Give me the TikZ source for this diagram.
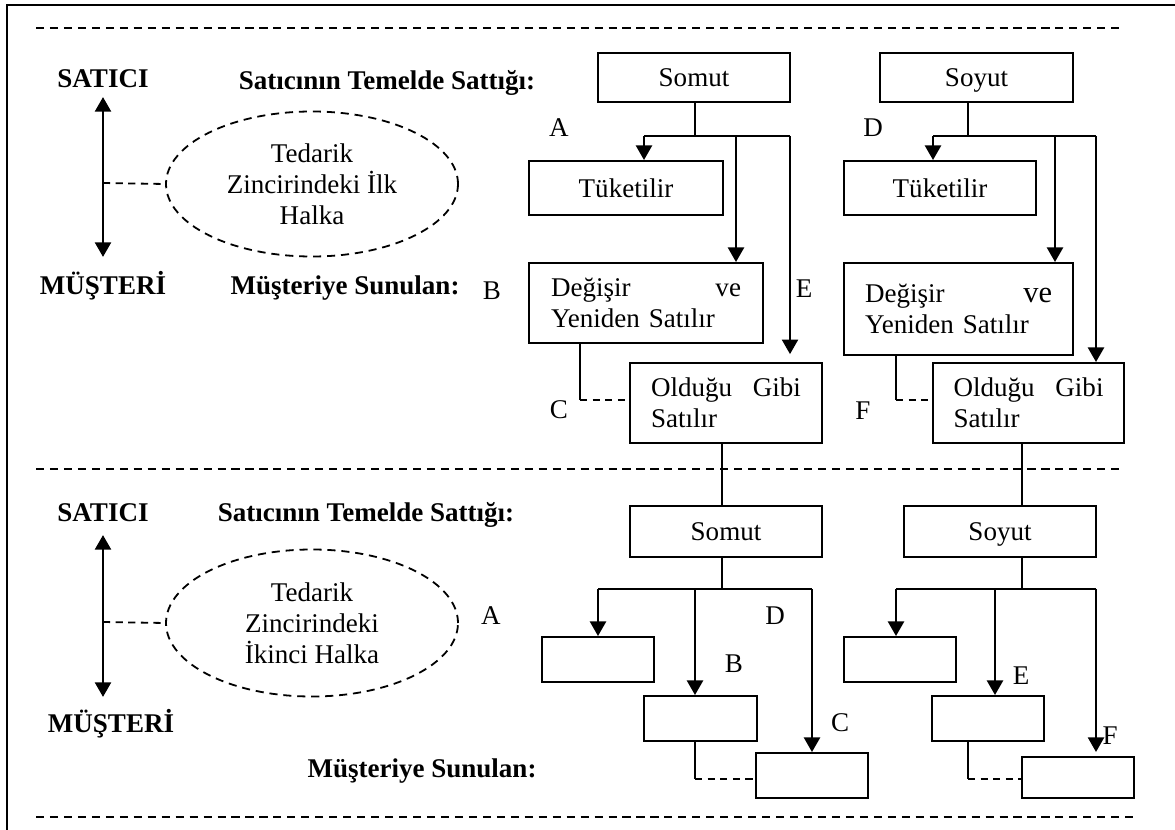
\documentclass[tikz,border=0pt]{standalone}
\usepackage{fontspec}
\setmainfont{Liberation Serif}
\usetikzlibrary{arrows.meta,shapes.geometric}

% one drawing unit = one pixel of the 1175 x 830 page
\newcommand\pxu{0.444pt}
% rectangle given by its corners: [options]{name}{x1}{y1}{x2}{y2}{text}
\newcommand\rbox[7][]{%
  \node[box,#1,minimum width={(#5-#3)*\pxu},minimum height={(#6-#4)*\pxu}]
    (#2) at ({(#3+#5)/2},{(#4+#6)/2}) {#7};}

\tikzset{
  txt/.style={font=\fontsize{12}{13.8}\selectfont},
  box/.style={draw,line width=0.8pt,inner sep=0pt,align=center,txt},
  oneline/.style={text height=8pt,text depth=0pt},
  lbl/.style={inner sep=0pt,text height=8pt,text depth=0pt,txt},
  head/.style={lbl,font=\fontsize{12}{13.8}\selectfont\bfseries},
  cloud/.style={draw,ellipse,dash pattern=on 3.6pt off 2.6pt,line width=0.8pt,
    inner sep=0pt,align=center,txt},
  sep/.style={line width=1pt,dash pattern=on 3.6pt off 2.6pt},
  link/.style={line width=0.8pt,dash pattern=on 3.2pt off 2.4pt},
  stem/.style={line width=0.8pt},
  branch/.style={line width=1pt},
  arr/.style={line width=1.3pt,-{Triangle[length=6.5pt,width=7pt]}},
  twoway/.style={line width=1.3pt,{Triangle[length=6.5pt,width=7pt]}-{Triangle[length=6.5pt,width=7pt]}},
}

\begin{document}
\begin{tikzpicture}[x=0.444pt,y=-0.444pt]
\useasboundingbox (0,0) rectangle (1175,830);

% frame and section separators
\coordinate (fbl) at (7,830);
\coordinate (ftl) at (7,5);
\coordinate (ftr) at (1175,5);
\draw[line width=1.2pt] (fbl) -- (ftl) -- (ftr);
\coordinate (s1a) at (36,28);  \coordinate (s1b) at (1125,28);
\coordinate (s2a) at (36,469); \coordinate (s2b) at (1125,469);
\coordinate (s3a) at (36,817); \coordinate (s3b) at (1134,817);
\draw[sep] (s1a) -- (s1b);
\draw[sep] (s2a) -- (s2b);
\draw[sep] (s3a) -- (s3b);

% ---------------- first link ----------------
\node[head] (sat1) at (103,78) {SATICI};
\node[head] (mus1) at (103,285) {MÜŞTERİ};
\coordinate (up1) at (103,97);
\coordinate (dn1) at (103,257);
\draw[twoway] (dn1) -- (up1);
\node[cloud,minimum width={292*\pxu},minimum height={145*\pxu}] (ring1) at (312,184)
  {Tedarik\\Zincirindeki İlk\\Halka};
\coordinate (mid1) at (103,183);
\draw[link] (mid1) -- (ring1.west);

\node[head] (ts1) at (387,80) {Satıcının Temelde Sattığı:};
\node[head] (ms1) at (345,285) {Müşteriye Sunulan:};

\rbox[oneline]{somut1}{598}{53}{790}{102}{Somut}
\rbox[oneline]{soyut1}{880}{53}{1073}{102}{Soyut}
\rbox[oneline]{tuk1}{529}{161}{723}{215}{Tüketilir}
\rbox[oneline]{tuk2}{844}{161}{1036}{215}{Tüketilir}
\rbox[text width={190*\pxu},align=left]{deg1}{529}{263}{763}{343}{Değişir\hfill ve\\Yeniden Satılır}
\rbox[text width={187*\pxu},align=left]{deg2}{844}{263}{1073}{355}{Değişir\hfill{\fontsize{13.5}{13.8}\selectfont ve}\\Yeniden Satılır}
\rbox[text width={150*\pxu},align=left]{old1}{630}{363}{822}{443}{Olduğu\hfill Gibi\\Satılır}
\rbox[text width={150*\pxu},align=left]{old2}{933}{363}{1124}{443}{Olduğu\hfill Gibi\\Satılır}

\node[lbl] (la1) at (559,127) {A};
\node[lbl] (lb1) at (492,290) {B};
\node[lbl] (lc1) at (559,409) {C};
\node[lbl] (ld1) at (873,127) {D};
\node[lbl] (le1) at (804,288) {E};
\node[lbl] (lf1) at (863,410) {F};

% Somut branches
\coordinate (j1) at (695,136);
\coordinate (b11) at (644,136);
\coordinate (b12) at (736,136);
\coordinate (b13) at (790,136);
\draw[stem] (somut1.south -| j1) -- (j1);
\draw[branch] (b11) -- (b13);
\draw[arr] (b11) -- (b11 |- tuk1.north);
\draw[arr] (b12) -- (b12 |- deg1.north);
\draw[arr,shorten >=3.5pt] (b13) -- (b13 |- old1.north);
\coordinate (k1) at (580,400);
\draw[stem] (k1 |- deg1.south) -- (k1);
\draw[link] (k1) -- (k1 -| old1.west);

% Soyut branches
\coordinate (j2) at (968,136);
\coordinate (b21) at (933,136);
\coordinate (b22) at (1055,136);
\coordinate (b23) at (1096,136);
\draw[stem] (soyut1.south -| j2) -- (j2);
\draw[branch] (b21) -- (b23);
\draw[arr] (b21) -- (b21 |- tuk2.north);
\draw[arr] (b22) -- (b22 |- deg2.north);
\draw[arr] (b23) -- (b23 |- old2.north);
\coordinate (k2) at (896,400);
\draw[stem] (k2 |- deg2.south) -- (k2);
\draw[link] (k2) -- (k2 -| old2.west);

% ---------------- second link ----------------
\node[head] (sat2) at (103,512) {SATICI};
\node[head] (mus2) at (111,723) {MÜŞTERİ};
\coordinate (up2) at (103,535);
\coordinate (dn2) at (103,697);
\draw[twoway] (dn2) -- (up2);
\node[cloud,minimum width={292*\pxu},minimum height={147*\pxu}] (ring2) at (312,623)
  {Tedarik\\Zincirindeki\\İkinci Halka};
\coordinate (mid2) at (103,622);
\draw[link] (mid2) -- (ring2.west);

\node[head] (ts2) at (366,512) {Satıcının Temelde Sattığı:};
\node[head] (ms2) at (422,768) {Müşteriye Sunulan:};

\rbox[oneline]{somut2}{630}{506}{822}{557}{Somut}
\rbox[oneline]{soyut2}{904}{506}{1096}{557}{Soyut}
\rbox{e1}{542}{637}{654}{682}{}
\rbox{e2}{644}{696}{757}{741}{}
\rbox{e3}{756}{753}{868}{798}{}
\rbox{e4}{844}{637}{956}{682}{}
\rbox{e5}{932}{696}{1044}{741}{}
\rbox{e6}{1022}{757}{1134}{798}{}

\node[lbl] (la2) at (491,615) {A};
\node[lbl] (lb2) at (734,663) {B};
\node[lbl] (lc2) at (840,722) {C};
\node[lbl] (ld2) at (775,615) {D};
\node[lbl] (le2) at (1021,675) {E};
\node[lbl] (lf2) at (1110,735) {F};

% links carried down from the first stage
\coordinate (x1) at (722,0);
\coordinate (x2) at (1022,0);
\draw[stem] (old1.south -| x1) -- (somut2.north -| x1);
\draw[stem] (old2.south -| x2) -- (soyut2.north -| x2);

% Somut branches
\coordinate (j3) at (722,589);
\coordinate (b31) at (598,589);
\coordinate (b32) at (695,589);
\coordinate (b33) at (812,589);
\draw[stem] (somut2.south -| j3) -- (j3);
\draw[branch] (b31) -- (b33);
\draw[arr] (b31) -- (b31 |- e1.north);
\draw[arr] (b32) -- (b32 |- e2.north);
\draw[arr] (b33) -- (b33 |- e3.north);
\coordinate (k3) at (695,779);
\draw[stem] (k3 |- e2.south) -- (k3);
\draw[link] (k3) -- (k3 -| e3.west);

% Soyut branches
\coordinate (j4) at (1022,589);
\coordinate (b41) at (896,589);
\coordinate (b42) at (995,589);
\coordinate (b43) at (1096,589);
\draw[stem] (soyut2.south -| j4) -- (j4);
\draw[branch] (b41) -- (b43);
\draw[arr] (b41) -- (b41 |- e4.north);
\draw[arr] (b42) -- (b42 |- e5.north);
\draw[arr,shorten >=1.8pt] (b43) -- (b43 |- e6.north);
\coordinate (k4) at (968,779);
\draw[stem] (k4 |- e5.south) -- (k4);
\draw[link] (k4) -- (k4 -| e6.west);
\end{tikzpicture}
\end{document}
